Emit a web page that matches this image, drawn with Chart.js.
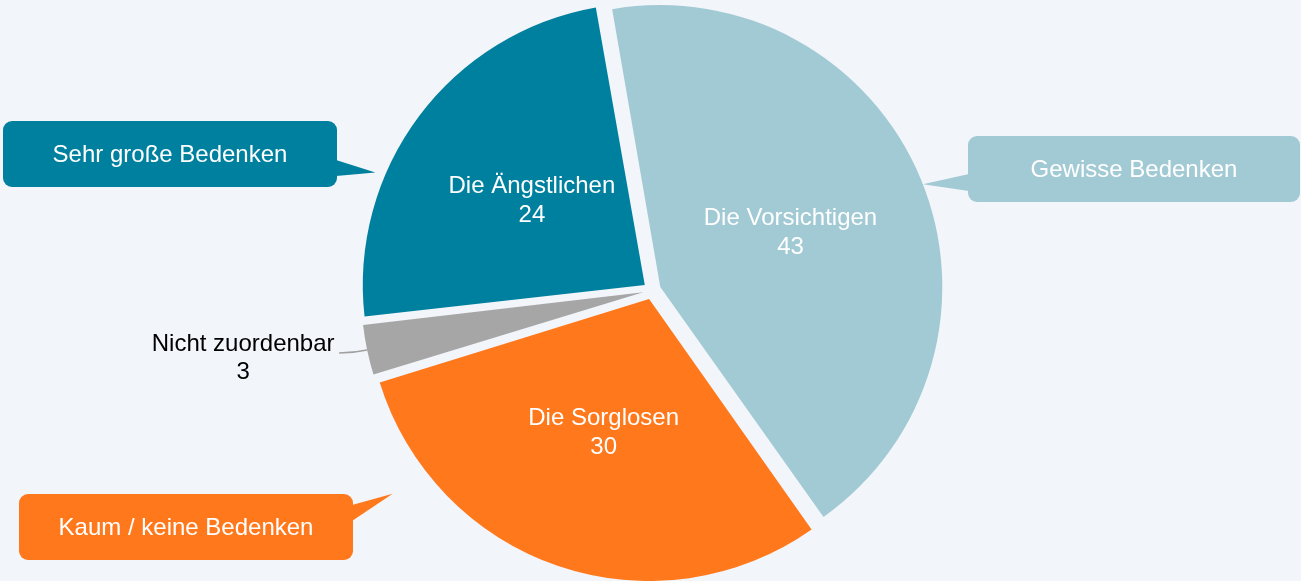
<!DOCTYPE html>
<html lang="de">
<head>
<meta charset="utf-8">
<title>Bedenken</title>
<script src="https://cdn.jsdelivr.net/npm/chart.js@4/dist/chart.umd.min.js"></script>
<style>
  html, body { margin: 0; padding: 0; background: #f2f5f9; }
  #pie { display: block; }
</style>
</head>
<body>
<canvas id="pie" width="1301" height="581"></canvas>
<script>
// data, clockwise from the top
const segmentNames = ['Die Vorsichtigen', 'Die Sorglosen', 'Nicht zuordenbar', 'Die Ängstlichen'];
const segmentValues = [43, 30, 3, 24];
const segmentColors = ['#a2cad4', '#ff781c', '#a6a6a6', '#00809f'];
const calloutTexts = ['Gewisse Bedenken', 'Kaum / keine Bedenken', 'Sehr große Bedenken'];
const calloutSlices = [0, 1, 3];

const FONT = '24px "Liberation Sans", Arial, Helvetica, sans-serif';
const pieCanvas = document.getElementById('pie');

// boxes of the speech bubbles: x, y, w, h, the side the pointer leaves from,
// pointer base (y range), angle on the slice (deg from top) and distance past the rim
const calloutLayout = [
  { box: [968, 136, 332, 66], side: 'left', base: [174, 191], angle: 68.6, extra: 0 },
  { box: [19, 494, 334, 66], side: 'right', base: [505, 521], angle: 232.8, extra: 40 },
  { box: [3, 121, 334, 66], side: 'right', base: [160, 176], angle: 292.7, extra: 10 },
];

// point on an arc, taking the explode shift into account
function pointOnArc(arc, angle, dist) {
  const half = (arc.startAngle + arc.endAngle) / 2;
  const shift = (arc.options.offset || 0) / 4;
  return {
    x: arc.x + Math.cos(half) * shift + Math.cos(angle) * dist,
    y: arc.y + Math.sin(half) * shift + Math.sin(angle) * dist,
  };
}

function degToArcAngle(deg) {
  return deg * Math.PI / 180 - Math.PI / 2;
}

// chart.js grows wide exploded slices a bit; keep every slice at the same radius
const sameRadius = {
  id: 'sameRadius',
  afterDatasetUpdate(chart, args) {
    const arcs = chart.getDatasetMeta(args.index).data;
    arcs.forEach((arc) => {
      const shift = (arc.options.offset || 0) / 4;
      const fix = 1 - Math.sin(Math.min(Math.PI, arc.circumference || 0));
      arc.outerRadius -= shift * fix;
    });
  },
};

const pageBackground = {
  id: 'pageBackground',
  beforeDraw(chart) {
    const { ctx, width, height } = chart;
    ctx.save();
    ctx.fillStyle = '#f2f5f9';
    ctx.fillRect(0, 0, width, height);
    ctx.restore();
  },
};

const sliceLabels = {
  id: 'sliceLabels',
  afterDatasetsDraw(chart) {
    const ctx = chart.ctx;
    const arcs = chart.getDatasetMeta(0).data;
    ctx.save();
    ctx.font = FONT;
    ctx.textAlign = 'center';
    ctx.textBaseline = 'middle';
    arcs.forEach((arc, i) => {
      const half = (arc.startAngle + arc.endAngle) / 2;
      const r = arc.outerRadius + (arc.options.offset / 4) * (1 - Math.sin(Math.min(Math.PI, arc.circumference)));
      if (segmentValues[i] < 5) {
        // small slice: label outside with a leader line
        const edge = pointOnArc(arc, half, r);
        ctx.strokeStyle = '#a0a0a0';
        ctx.lineWidth = 1.5;
        ctx.beginPath();
        ctx.moveTo(edge.x, edge.y);
        ctx.quadraticCurveTo(edge.x - 14, edge.y + 3, edge.x - 28, edge.y + 3);
        ctx.stroke();
        ctx.fillStyle = '#000';
        ctx.fillText(segmentNames[i], edge.x - 124, edge.y - 6);
        ctx.fillText(String(segmentValues[i]), edge.x - 124, edge.y + 22);
        return;
      }
      const p = pointOnArc(arc, half, r / 2);
      ctx.fillStyle = '#fff';
      ctx.fillText(segmentNames[i], p.x, p.y - 14);
      ctx.fillText(String(segmentValues[i]), p.x, p.y + 15);
    });
    ctx.restore();
  },
};

const speechBubbles = {
  id: 'speechBubbles',
  afterDraw(chart) {
    const ctx = chart.ctx;
    const arcs = chart.getDatasetMeta(0).data;
    ctx.save();
    calloutLayout.forEach((c, k) => {
      const slice = calloutSlices[k];
      const arc = arcs[slice];
      const [x, y, w, h] = c.box;
      const r = arc.outerRadius + (arc.options.offset / 4) * (1 - Math.sin(Math.min(Math.PI, arc.circumference)));
      const tip = pointOnArc(arc, degToArcAngle(c.angle), r + c.extra);
      const edgeX = c.side === 'left' ? x + 1 : x + w - 1;
      ctx.fillStyle = segmentColors[slice];
      ctx.beginPath();
      ctx.roundRect(x, y, w, h, 9);
      ctx.fill();
      ctx.beginPath();
      ctx.moveTo(edgeX, c.base[0]);
      ctx.lineTo(tip.x, tip.y);
      ctx.lineTo(edgeX, c.base[1]);
      ctx.closePath();
      ctx.fill();
      ctx.fillStyle = '#fff';
      ctx.font = FONT;
      ctx.textAlign = 'center';
      ctx.textBaseline = 'middle';
      ctx.fillText(calloutTexts[k], x + w / 2, y + h / 2 + 1);
    });
    ctx.restore();
  },
};

const pieChart = new Chart(pieCanvas, {
  type: 'pie',
  data: {
    labels: segmentNames,
    datasets: [
      {
        data: segmentValues,
        backgroundColor: segmentColors,
        borderWidth: 0,
        offset: 36,
      },
    ],
  },
  options: {
    responsive: false,
    animation: false,
    events: [],
    rotation: -10,
    radius: 282,
    layout: { padding: { left: 3 } },
    plugins: {
      legend: { display: false },
      tooltip: { enabled: false },
    },
  },
  plugins: [sameRadius, pageBackground, sliceLabels, speechBubbles],
});
</script>
</body>
</html>
